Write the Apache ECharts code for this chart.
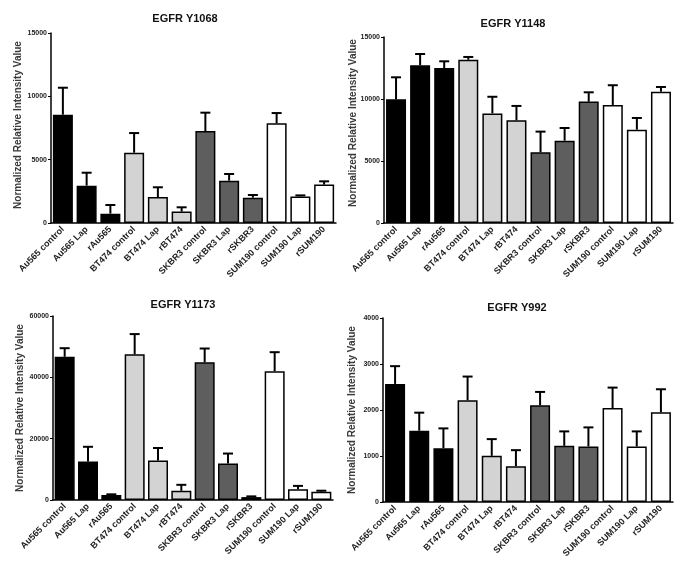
<!DOCTYPE html>
<html><head><meta charset="utf-8">
<script src="https://cdn.jsdelivr.net/npm/echarts@6/dist/echarts.min.js"></script>
<style>html,body{margin:0;padding:0;background:#fff}#c{width:685px;height:566px}</style>
</head><body><div id="c"></div>
<script>
const categories = ['Au565 control','Au565 Lap','rAu565','BT474 control','BT474 Lap','rBT474','SKBR3 control','SKBR3 Lap','rSKBR3','SUM190 control','SUM190 Lap','rSUM190'];
const titles = ['EGFR Y1068','EGFR Y1148','EGFR Y1173','EGFR Y992'];
const y1068 = [8550, 2950, 740, 5550, 2050, 900, 7260, 3340, 2000, 7870, 2100, 3030];
const y1068Err = [2130, 1020, 680, 1550, 770, 340, 1450, 530, 210, 810, 80, 260];
const y1148 = [9970, 12720, 12500, 13170, 8840, 8280, 5700, 6640, 9790, 9520, 7530, 10590];
const y1148Err = [1780, 910, 540, 220, 1340, 1160, 1670, 1020, 750, 1590, 940, 380];
const y1173 = [46700, 12550, 1600, 47500, 12900, 3000, 44900, 11900, 950, 42000, 3500, 2680];
const y1173Err = [2800, 4800, 250, 6600, 4050, 1950, 4500, 3250, 230, 6200, 1100, 350];
const y992 = [2567, 1549, 1171, 2211, 1004, 778, 2102, 1222, 1207, 2044, 1207, 1949];
const y992Err = [386, 393, 429, 516, 363, 349, 291, 313, 415, 443, 328, 502];
const yMax = [15000, 15000, 60000, 4000];
const yInterval = [5000, 5000, 20000, 1000];
const yName = 'Normalized Relative Intensity Value';

const groupColors = ['#000000', '#d3d3d3', '#5e5e5e', '#ffffff'];
const values = [y1068, y1148, y1173, y992];
const errs = [y1068Err, y1148Err, y1173Err, y992Err];
const grids = [
  {left: 51, top: 33, width: 285, height: 190},
  {left: 384, top: 37, width: 289, height: 186},
  {left: 53, top: 316, width: 280, height: 184},
  {left: 383, top: 318, width: 290, height: 184}
];
const titlePos = [[180, 8], [508, 13], [178, 294], [512, 297]];
const namePos = [[18, 125], [353, 123], [20, 408], [352, 410]];
const FONT = 'Liberation Sans, Arial, sans-serif';

const option = {
  animation: false,
  backgroundColor: '#fff',
  title: titles.map((t, i) => ({
    text: t, left: titlePos[i][0], top: titlePos[i][1], textAlign: 'center',
    textStyle: {fontSize: 11, fontWeight: 'bold', color: '#111', fontFamily: FONT}
  })),
  graphic: namePos.map(p => ({
    type: 'text', x: p[0], y: p[1], rotation: Math.PI / 2,
    style: {text: yName, fill: '#3a3a3a', font: 'bold 10px ' + FONT, textAlign: 'center', textVerticalAlign: 'middle'}
  })),
  grid: grids,
  xAxis: grids.map((g, i) => ({
    type: 'category', gridIndex: i, data: categories,
    axisLine: {lineStyle: {color: '#000', width: 1.5}},
    axisTick: {alignWithLabel: true, length: 3, lineStyle: {color: '#000'}},
    axisLabel: {rotate: 45, interval: 0, fontSize: 9, fontWeight: 'bold', color: '#222', margin: 5, fontFamily: FONT}
  })),
  yAxis: grids.map((g, i) => ({
    type: 'value', gridIndex: i, min: 0, max: yMax[i], interval: yInterval[i],
    splitLine: {show: false},
    axisLine: {show: true, lineStyle: {color: '#000', width: 1.5}},
    axisTick: {show: true, length: 3, lineStyle: {color: '#000'}},
    axisLabel: {fontSize: 7, fontWeight: 'bold', color: '#222', margin: 4, fontFamily: FONT,
      formatter: v => String(v)}
  })),
  series: []
};

values.forEach((vals, i) => {
  option.series.push({
    type: 'bar', xAxisIndex: i, yAxisIndex: i, barWidth: 20,
    data: vals.map((v, k) => ({value: v, itemStyle: {color: groupColors[Math.floor(k / 3)], borderColor: '#000', borderWidth: 1.5}})),
    z: 2
  });
  option.series.push({
    type: 'custom', xAxisIndex: i, yAxisIndex: i, z: 3,
    data: vals.map((v, k) => [k, v, v + errs[i][k]]),
    renderItem: function (params, api) {
      const b = api.coord([api.value(0), api.value(1)]);
      const t = api.coord([api.value(0), api.value(2)]);
      const hw = 5;
      return {
        type: 'group',
        children: [
          {type: 'line', shape: {x1: b[0], y1: b[1], x2: t[0], y2: t[1]}, style: {stroke: '#000', lineWidth: 2}},
          {type: 'line', shape: {x1: t[0] - hw, y1: t[1], x2: t[0] + hw, y2: t[1]}, style: {stroke: '#000', lineWidth: 2}}
        ]
      };
    }
  });
});

const chart = echarts.init(document.getElementById('c'), null, {renderer: 'canvas'});
chart.setOption(option);
</script>
</body></html>
